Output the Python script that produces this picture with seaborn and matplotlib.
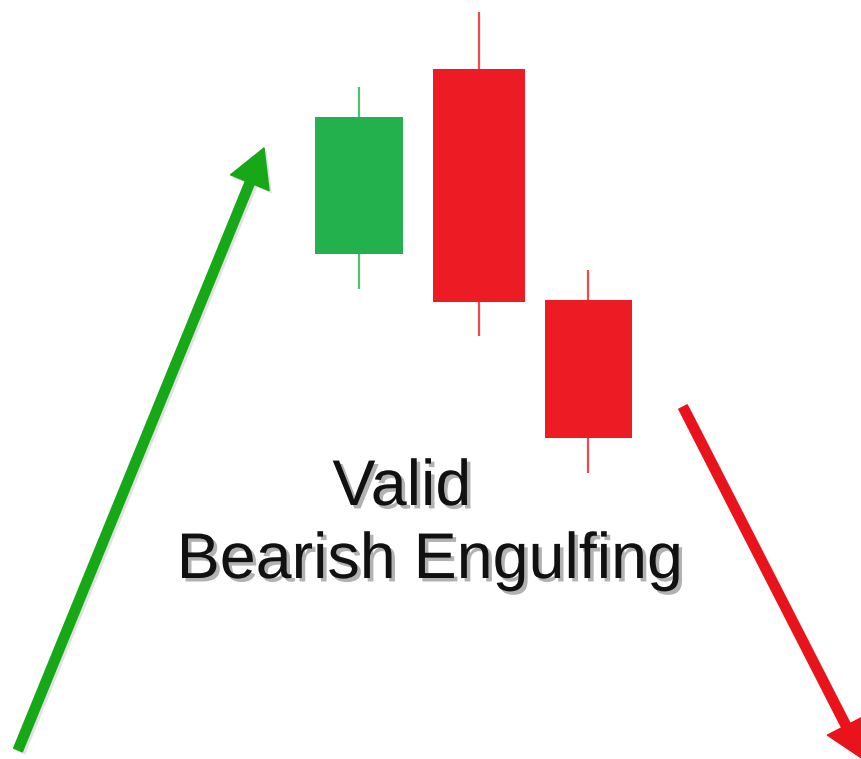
import matplotlib.pyplot as plt
import matplotlib.patheffects as pe
import seaborn as sns

# Candle data (price units; x = position on the chart)
candle_x = [3.59, 4.79, 5.88]
candle_width = [0.88, 0.92, 0.87]
opens = [50.5, 69.0, 45.9]
closes = [64.2, 45.7, 32.1]
highs = [67.2, 74.7, 48.9]
lows = [47.0, 42.3, 28.6]

# Trend arrows (tail, tip)
up_arrow = [(0.18, 0.9), (2.64, 61.1)]
down_arrow = [(6.83, 35.2), (8.63, 0.0)]

label_lines = ["Valid", "Bearish Engulfing"]
label_x = [4.02, 4.30]
label_y = [25.4, 18.1]

GREEN = '#22B14C'
RED = '#ED1C24'

sns.set_theme(style="white")
plt.rcParams['font.family'] = ['Liberation Sans', 'DejaVu Sans']

fig = plt.figure(figsize=(8.61, 7.59), dpi=100)
ax = fig.add_axes([0, 0, 1, 1])
ax.set_xlim(0, 8.61)
ax.set_ylim(0, 75.9)
ax.axis('off')

# Draw candles
for x, w, o, c, h, l in zip(candle_x, candle_width, opens, closes, highs, lows):
    color = GREEN if c > o else RED
    ax.vlines(x, l, h, color=color, lw=1.6, alpha=0.8, zorder=1)
    ax.bar(x, abs(c - o), bottom=min(o, c), width=w, color=color,
           edgecolor='none', zorder=2)

# Trend arrows with soft shadow
shadow = [pe.SimplePatchShadow(offset=(2, -2), shadow_rgbFace='#888888', alpha=0.25), pe.Normal()]
for (tail, tip), color in [(up_arrow, '#17A817'), (down_arrow, '#E8131B')]:
    ax.annotate("", xy=tip, xytext=tail, annotation_clip=False,
                arrowprops=dict(arrowstyle="simple,head_length=2.7,head_width=3.0,tail_width=0.68",
                                mutation_scale=10, color=color, shrinkA=0, shrinkB=0,
                                path_effects=shadow))

# Label with drop shadow
for txt, x, y in zip(label_lines, label_x, label_y):
    ax.text(x, y, txt, ha='center', va='baseline', fontsize=46.5, color='#111111',
            path_effects=[pe.withSimplePatchShadow(offset=(2.5, -2.5),
                                                   shadow_rgbFace='#555555', alpha=0.45)])

plt.savefig("out.png", dpi=100)
plt.close()
